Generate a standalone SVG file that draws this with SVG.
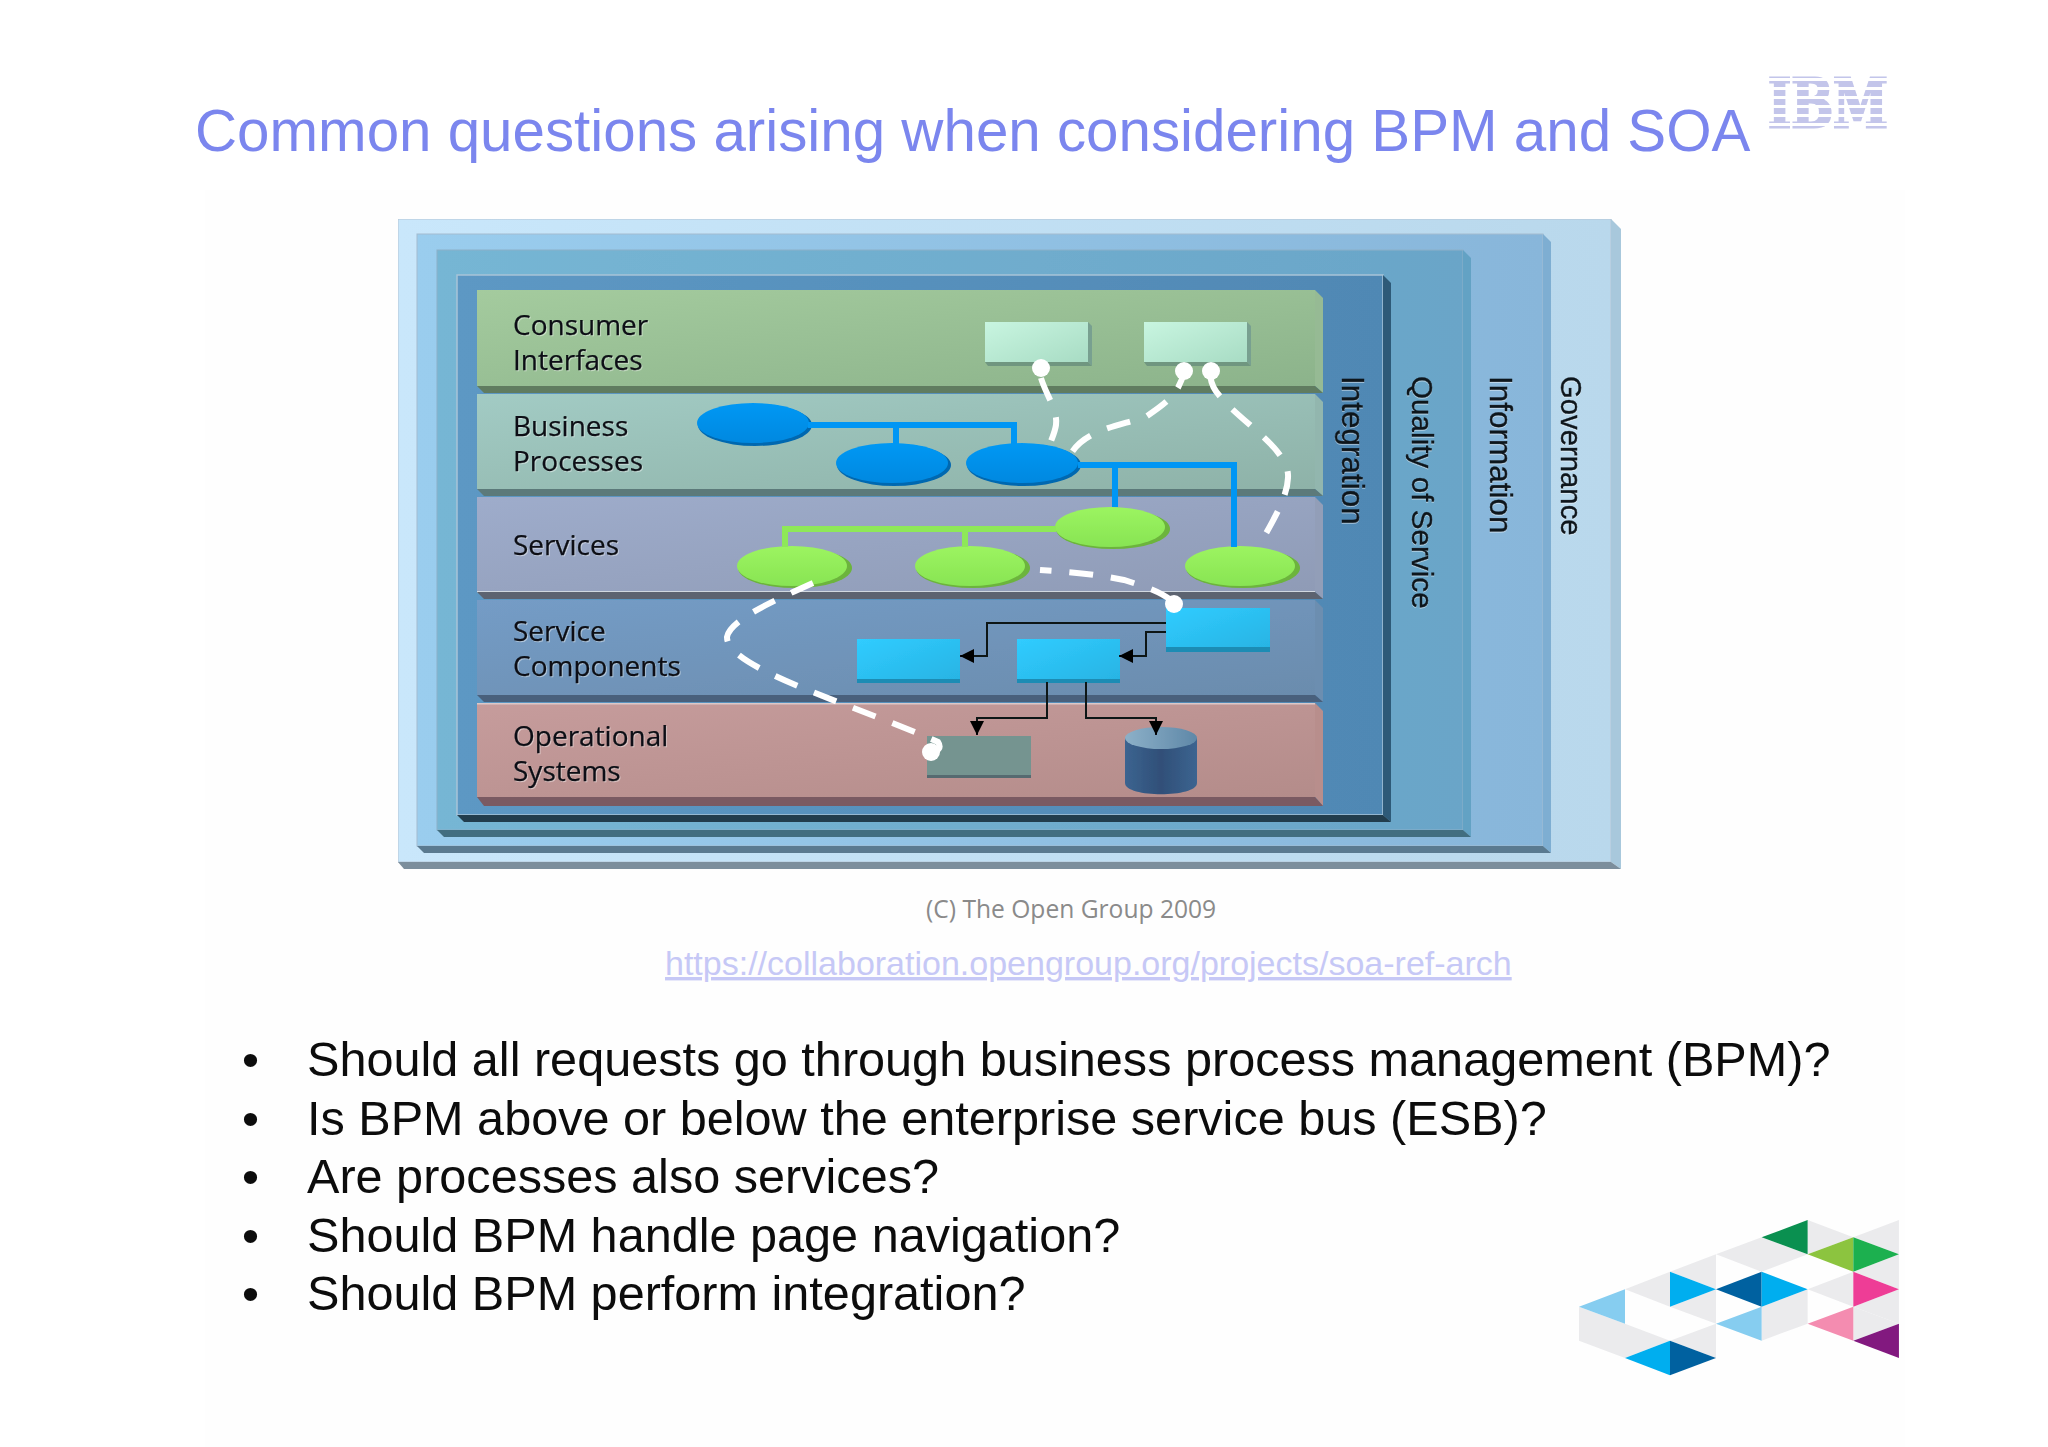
<svg xmlns="http://www.w3.org/2000/svg" width="2048" height="1447" viewBox="0 0 2048 1447">
<style>
text{font-family:"Liberation Sans",Arial,sans-serif}
.title{font-size:58.3px;fill:#7b86ee}
.b{font-size:48.6px;fill:#0c0c0c}
.l{font-family:"Open Sans","Noto Sans",sans-serif;font-size:28px;fill:#0c1014;stroke:#0c1014;stroke-width:.25;filter:drop-shadow(1px 1px 0 rgba(255,255,255,.45))}
.v{fill:#10161c;stroke:#10161c;stroke-width:.3;filter:drop-shadow(1px 0 0 rgba(255,255,255,.5))}
.dash{fill:none;stroke:#fff;stroke-width:6;stroke-dasharray:24 18}
.dot{fill:#fff}
.blue{fill:none;stroke:#0096f4;stroke-width:6}
.green{fill:none;stroke:#8ee858;stroke-width:6}
.thin{fill:none;stroke:#101418;stroke-width:2;marker-end:url(#ah)}
.g{fill:#ebebed}
</style>
<defs>
<filter id="soft" x="0" y="0" width="100%" height="100%"><feGaussianBlur stdDeviation=".6"/></filter>
<marker id="ah" markerWidth="14" markerHeight="14" refX="10" refY="5" orient="auto" markerUnits="userSpaceOnUse" viewBox="0 0 10 10"><path d="M0 0L10 5L0 10z" fill="#000"/></marker>
<pattern id="ibm" width="8" height="9" patternUnits="userSpaceOnUse"><rect width="8" height="6" fill="#c3c5ea"/><rect y="6" width="8" height="3" fill="#fff"/></pattern>
<linearGradient id="l1" x1="0" x2="1" y1="0" y2="0"><stop offset="0" stop-color="#c9e7fb"/><stop offset="1" stop-color="#b9d8ec"/></linearGradient>
<linearGradient id="l2" x1="0" x2="1"><stop offset="0" stop-color="#9acdee"/><stop offset="1" stop-color="#88b6da"/></linearGradient>
<linearGradient id="l3" x1="0" x2="1"><stop offset="0" stop-color="#76b6d4"/><stop offset="1" stop-color="#6aa5c8"/></linearGradient>
<linearGradient id="l4" x1="0" x2="1"><stop offset="0" stop-color="#5d98c4"/><stop offset="1" stop-color="#5088b4"/></linearGradient>
<linearGradient id="b1" x1="0" x2="1" y1="0" y2="1"><stop offset="0" stop-color="#a4cb9e"/><stop offset="1" stop-color="#8cb38b"/></linearGradient>
<linearGradient id="b2" x1="0" x2="1" y1="0" y2="1"><stop offset="0" stop-color="#a2cbc4"/><stop offset="1" stop-color="#8eb2a8"/></linearGradient>
<linearGradient id="b3" x1="0" x2="1" y1="0" y2="1"><stop offset="0" stop-color="#9eaccb"/><stop offset="1" stop-color="#8f9bb6"/></linearGradient>
<linearGradient id="b4" x1="0" x2="1" y1="0" y2="1"><stop offset="0" stop-color="#749cc6"/><stop offset="1" stop-color="#6b8cad"/></linearGradient>
<linearGradient id="b5" x1="0" x2="1" y1="0" y2="1"><stop offset="0" stop-color="#c69c9c"/><stop offset="1" stop-color="#b48c8a"/></linearGradient>
<linearGradient id="ci" x1="0" x2="1" y1="0" y2="1"><stop offset="0" stop-color="#c8f5e0"/><stop offset="1" stop-color="#a8dcc4"/></linearGradient>
<linearGradient id="sc" x1="0" x2="1" y1="0" y2="1"><stop offset="0" stop-color="#30ccff"/><stop offset="1" stop-color="#28b4e4"/></linearGradient>
<linearGradient id="bp" x1="0" x2="0" y1="0" y2="1"><stop offset="0" stop-color="#0098f4"/><stop offset="1" stop-color="#0088e0"/></linearGradient>
<linearGradient id="sv" x1="0" x2="0" y1="0" y2="1"><stop offset="0" stop-color="#9cf460"/><stop offset="1" stop-color="#88e454"/></linearGradient>
<linearGradient id="cy" x1="0" x2="1"><stop offset="0" stop-color="#3c6490"/><stop offset=".5" stop-color="#304f78"/><stop offset="1" stop-color="#3c6490"/></linearGradient>
<linearGradient id="cyt" x1="0" x2="1"><stop offset="0" stop-color="#8cb0c8"/><stop offset="1" stop-color="#5f88a8"/></linearGradient>
</defs>
<rect width="2048" height="1447" fill="#fff"/>
<rect x="205" y="190" width="1700" height="1257" fill="#fefefe"/>
<g id="title"><text class="title" x="195" y="151">Common questions arising when considering BPM and SOA</text></g>
<g id="ibm-logo"><text x="1768" y="127" font-size="68" font-weight="bold" textLength="120" lengthAdjust="spacingAndGlyphs" fill="url(#ibm)" stroke="url(#ibm)" stroke-width="3" style="font-family:'DejaVu Serif',serif">IBM</text></g>

<g id="diagram" filter="url(#soft)">
<g id="governance">
<rect x="398" y="219" width="1213" height="643" fill="url(#l1)" stroke="#b6c6d6" stroke-width="1"/>
<polygon points="1611,219 1621,229 1621,869 1611,862" fill="#a8c8dc"/>
<polygon points="398,862 1611,862 1621,869 404,869" fill="#7c8e9c"/>
<text class="v" font-size="29.3" transform="translate(1561,376) rotate(90)">Governance</text>
</g>
<g id="information">
<rect x="417" y="234" width="1126" height="612" fill="url(#l2)" stroke="#a4bcd0" stroke-width="1"/>
<polygon points="1543,234 1551,242 1551,853 1543,846" fill="#7eaed2"/>
<polygon points="417,846 1543,846 1551,853 424,853" fill="#5a7a90"/>
<text class="v" font-size="31.5" transform="translate(1490,376) rotate(90)">Information</text>
</g>
<g id="quality-of-service">
<rect x="437" y="250" width="1026" height="580" fill="url(#l3)" stroke="#8cb0c8" stroke-width="1"/>
<polygon points="1463,250 1471,258 1471,837 1463,830" fill="#64a2c4"/>
<polygon points="437,830 1463,830 1471,837 444,837" fill="#436e80"/>
<text class="v" font-size="29.7" transform="translate(1412,376) rotate(90)">Quality of Service</text>
</g>
<g id="integration">
<rect x="457" y="275" width="926" height="540" fill="url(#l4)" stroke="#a8c4d8" stroke-width="1.5"/>
<polygon points="1383,275 1391,283 1391,822 1383,815" fill="#2f5a78"/>
<polygon points="457,815 1383,815 1391,822 464,822" fill="#223e4e"/>
<text class="v" font-size="31.5" transform="translate(1342,376) rotate(90)">Integration</text>
</g>

<g id="consumer-interfaces">
<rect x="477" y="290" width="838" height="96" fill="url(#b1)"/>
<polygon points="1315,290 1323,298 1323,393 1315,386" fill="#96ba94"/>
<polygon points="477,386 1315,386 1323,393 484,393" fill="#607c60"/>
<text class="l" x="513" y="335">Consumer</text><text class="l" x="513" y="370">Interfaces</text>
</g>
<g id="business-processes">
<rect x="477" y="394" width="838" height="95" fill="url(#b2)"/>
<polygon points="1315,394 1323,402 1323,496 1315,489" fill="#92b6ae"/>
<polygon points="477,489 1315,489 1323,496 484,496" fill="#5c7a7a"/>
<text class="l" x="513" y="436">Business</text><text class="l" x="513" y="471">Processes</text>
</g>
<g id="services">
<rect x="477" y="497" width="838" height="95" fill="url(#b3)"/>
<rect x="477" y="591" width="838" height="1.5" fill="#d0d8e0"/>
<polygon points="1315,497 1323,505 1323,599 1315,592" fill="#929eb8"/>
<polygon points="477,592 1315,592 1323,599 484,599" fill="#5c6470"/>
<text class="l" x="513" y="555">Services</text>
</g>
<g id="service-components">
<rect x="477" y="600" width="838" height="95" fill="url(#b4)"/>
<polygon points="1315,600 1323,608 1323,702 1315,695" fill="#6c8eb0"/>
<polygon points="477,695 1315,695 1323,702 484,702" fill="#4a607c"/>
<text class="l" x="513" y="641">Service</text><text class="l" x="513" y="676">Components</text>
</g>
<g id="operational-systems">
<rect x="477" y="703" width="838" height="94" fill="url(#b5)"/>
<rect x="477" y="703" width="838" height="1.5" fill="#dcc8c8"/>
<polygon points="1315,703 1323,711 1323,806 1315,797" fill="#b88e8c"/>
<polygon points="477,797 1315,797 1323,806 484,806" fill="#7a5a62"/>
<text class="l" x="513" y="746">Operational</text><text class="l" x="513" y="781">Systems</text>
</g>

<g id="ci-1"><polygon points="1088,322 1092,326 1092,366 1088,362" fill="#78a090"/><polygon points="985,362 1088,362 1092,366 988,366" fill="#6f9680"/><rect x="985" y="322" width="103" height="40" fill="url(#ci)"/></g>
<g id="ci-2"><polygon points="1247,322 1251,326 1251,366 1247,362" fill="#78a090"/><polygon points="1144,362 1247,362 1251,366 1147,366" fill="#6f9680"/><rect x="1144" y="322" width="103" height="40" fill="url(#ci)"/></g>

<g id="bp-1"><ellipse cx="755" cy="425" rx="57" ry="21" fill="#0068b0"/><ellipse cx="753" cy="423" rx="56" ry="20" fill="url(#bp)"/></g>
<g id="bp-2"><ellipse cx="894" cy="465" rx="57" ry="21" fill="#0068b0"/><ellipse cx="892" cy="463" rx="56" ry="20" fill="url(#bp)"/></g>
<g id="bp-3"><ellipse cx="1024" cy="465" rx="57" ry="21" fill="#0068b0"/><ellipse cx="1022" cy="463" rx="56" ry="20" fill="url(#bp)"/></g>
<g id="sv-1"><ellipse cx="795" cy="568" rx="57" ry="20" fill="#6cb43c"/><ellipse cx="792" cy="566" rx="55" ry="20" fill="url(#sv)"/></g>
<g id="sv-2"><ellipse cx="973" cy="568" rx="57" ry="20" fill="#6cb43c"/><ellipse cx="970" cy="566" rx="55" ry="20" fill="url(#sv)"/></g>
<g id="sv-3"><ellipse cx="1113" cy="529" rx="57" ry="20" fill="#6cb43c"/><ellipse cx="1110" cy="527" rx="55" ry="20" fill="url(#sv)"/></g>
<g id="sv-4"><ellipse cx="1243" cy="568" rx="57" ry="20" fill="#6cb43c"/><ellipse cx="1240" cy="566" rx="55" ry="20" fill="url(#sv)"/></g>

<g id="sc-1"><rect x="857" y="639" width="103" height="44" fill="#1c8cb4"/><rect x="857" y="639" width="103" height="40" fill="url(#sc)"/></g>
<g id="sc-2"><rect x="1017" y="639" width="103" height="44" fill="#1c8cb4"/><rect x="1017" y="639" width="103" height="40" fill="url(#sc)"/></g>
<g id="sc-3"><rect x="1166" y="608" width="104" height="44" fill="#1c8cb4"/><rect x="1166" y="608" width="104" height="39" fill="url(#sc)"/></g>
<g id="os-1"><rect x="927" y="736" width="104" height="42" fill="#566a70"/><rect x="927" y="736" width="104" height="39" fill="#759490"/></g>
<g id="os-2"><path d="M1125 738V783C1125 798 1197 798 1197 783V738z" fill="url(#cy)"/><ellipse cx="1161" cy="738" rx="36" ry="11" fill="url(#cyt)"/></g>

<g id="connectors">
<path class="blue" d="M808 425H1014V444"/><path class="blue" d="M896 425V444"/>
<path class="blue" d="M1078 465H1234V547"/><path class="blue" d="M1115 465V507"/>
<path class="green" d="M1056 529H785V547"/><path class="green" d="M965 529V547"/>
<path class="thin" d="M1166 623H987V656H960"/>
<path class="thin" d="M1166 632H1146V656H1119"/>
<path class="thin" d="M1047 682V718H977V735"/>
<path class="thin" d="M1086 682V718H1156V735"/>
</g>

<g id="flows">
<path class="dash" d="M1041 378C1046 395 1058 410 1056 425C1055 432 1052 438 1050 444"/>
<path class="dash" style="stroke-dashoffset:6" d="M1184 371C1180 392 1168 402 1147 416C1125 425 1088 428 1072 452"/>
<path class="dash" d="M1210 375C1212 388 1216 392 1225 402C1250 428 1290 452 1288 478C1287 500 1270 525 1258 548"/>
<path class="dash" d="M1172 601C1162 593 1150 588 1124 580C1095 574 1070 572 1040 570"/>
<path class="dash" d="M813 583C775 600 730 620 727 637C726 668 850 703 938 742C942 748 938 752 930 752"/>
<circle class="dot" cx="1041" cy="368" r="9"/>
<circle class="dot" cx="1184" cy="371" r="9"/>
<circle class="dot" cx="1211" cy="371" r="9"/>
<circle class="dot" cx="1174" cy="604" r="9"/>
<circle class="dot" cx="931" cy="752" r="9"/>
</g>
</g>

<g id="caption">
<text x="926" y="918" style="font-family:'Open Sans','Noto Sans',sans-serif" font-size="24.6" fill="#8a8a8a">(C) The Open Group 2009</text>
<text x="665" y="975" font-size="34" fill="#c6c8f6" text-decoration="underline">https://collaboration.opengroup.org/projects/soa-ref-arch</text>
</g>

<g id="bullets">
<text class="b" x="242" y="1076">•</text><text class="b" x="307" y="1076">Should all requests go through business process management (BPM)?</text>
<text class="b" x="242" y="1135">•</text><text class="b" x="307" y="1135">Is BPM above or below the enterprise service bus (ESB)?</text>
<text class="b" x="242" y="1193">•</text><text class="b" x="307" y="1193">Are processes also services?</text>
<text class="b" x="242" y="1252">•</text><text class="b" x="307" y="1252">Should BPM handle page navigation?</text>
<text class="b" x="242" y="1310">•</text><text class="b" x="307" y="1310">Should BPM perform integration?</text>
</g>

<g id="logo-triangles" transform="translate(1560 1200) scale(.3333)">
<polygon class="g" points="743,60 880,112 743,163"/><polygon class="g" points="880,112 1017,60 1017,163"/>
<polygon class="g" points="880,215 1017,163 1017,268"/><polygon class="g" points="743,268 880,215 880,320"/>
<polygon class="g" points="880,320 1017,268 1017,371"/><polygon class="g" points="880,320 1017,371 880,422"/>
<polygon class="g" points="468,163 605,112 743,163 605,215"/><polygon class="g" points="605,320 743,268 743,371 605,422"/>
<polygon class="g" points="195,268 330,215 330,320"/><polygon class="g" points="330,215 468,163 468,268"/>
<polygon class="g" points="330,320 468,268 468,371"/><polygon class="g" points="57,320 195,371 330,422 195,474 57,422"/>
<polygon class="g" points="330,422 468,371 468,474"/>
<polygon fill="#0a9050" points="605,112 743,60 743,163"/>
<polygon fill="#8cc43f" points="743,163 880,112 880,215"/>
<polygon fill="#1cb04f" points="880,112 1017,163 880,215"/>
<polygon fill="#ee3d96" points="880,215 1017,268 880,320"/>
<polygon fill="#f48cb0" points="743,371 880,320 880,422"/>
<polygon fill="#82197f" points="880,422 1017,371 1017,474"/>
<polygon fill="#0061a0" points="468,268 605,215 605,320"/>
<polygon fill="#00aeef" points="605,215 743,268 605,320"/>
<polygon fill="#86cdf0" points="468,371 605,320 605,422"/>
<polygon fill="#00aeef" points="330,215 468,268 330,320"/>
<polygon fill="#86cdf0" points="57,320 195,268 195,371"/>
<polygon fill="#00aeef" points="195,474 330,422 330,526"/>
<polygon fill="#0061a0" points="330,422 468,474 330,526"/>
</g>
</svg>
